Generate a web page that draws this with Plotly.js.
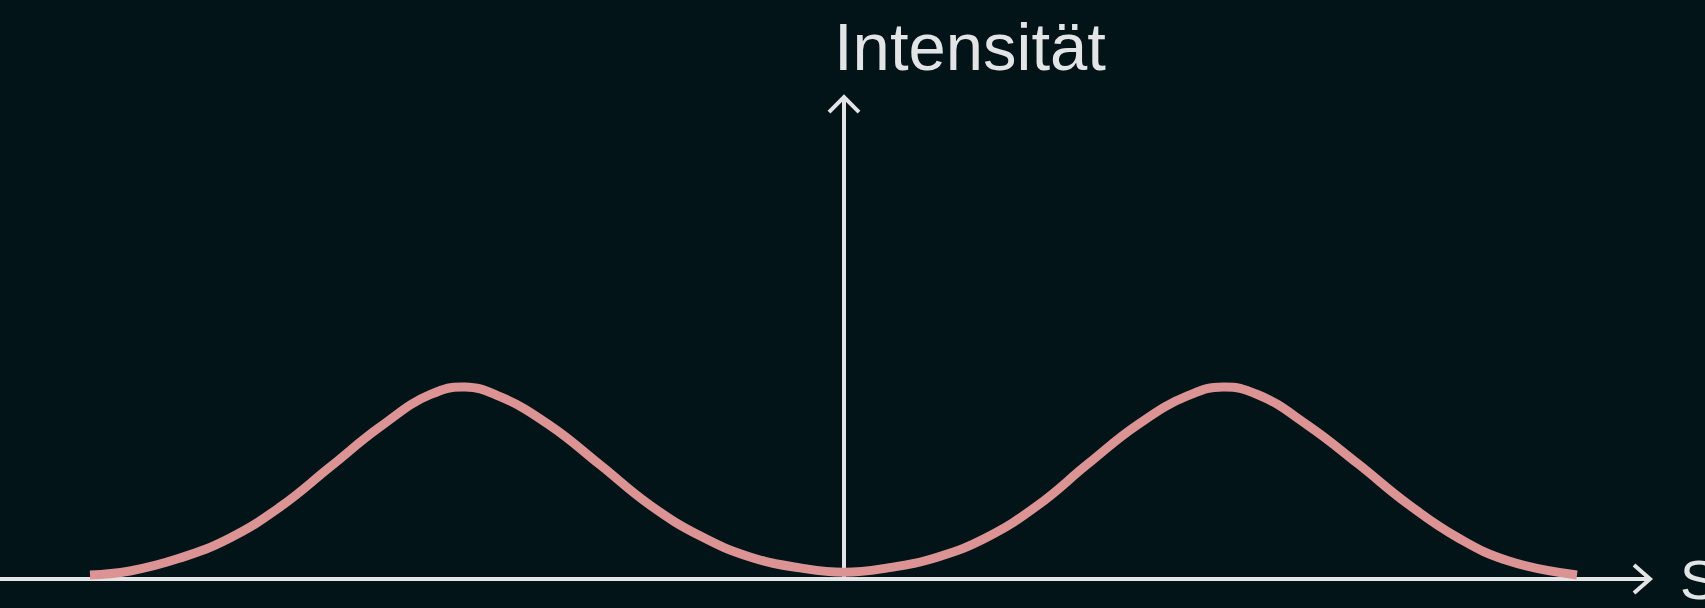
<!DOCTYPE html>
<html>
<head>
<meta charset="utf-8">
<script src="https://cdn.plot.ly/plotly-3.0.1.min.js"></script>
<style>
  html, body { margin: 0; padding: 0; background: #031419; }
  #graphDiv { width: 1705px; height: 608px; }
</style>
</head>
<body>
<div id="graphDiv"></div>
<script>
'use strict';

// position along the screen (0 = central axis) and relative intensity
const position = [-7.54, -7.14, -6.64, -6.14, -5.64, -5.14, -4.64, -4.14, -3.79, -3.44, -2.94, -2.44, -1.94, -1.44, -0.94, -0.44, 0,
  0.44, 0.94, 1.44, 1.94, 2.44, 2.94, 3.44, 3.79, 4.14, 4.64, 5.14, 5.64, 6.14, 6.64, 7.33];
const intensity = [0.021, 0.042, 0.109, 0.214, 0.375, 0.583, 0.792, 0.960, 1.0, 0.950, 0.800, 0.595, 0.385, 0.225, 0.115, 0.058, 0.035,
  0.058, 0.115, 0.220, 0.385, 0.600, 0.805, 0.955, 1.0, 0.960, 0.800, 0.600, 0.390, 0.215, 0.095, 0.021];

const yTitle = 'Intensität';
const xTitle = 'S';

const axisColor = '#e2e4e5';
const curveColor = '#dc9394';

const xArrowTip = 8.06;
const yArrowTip = 2.51;

function chevron(anchorX, anchorY, path) {
  return {
    type: 'path', xref: 'x', yref: 'y', xsizemode: 'pixel', ysizemode: 'pixel',
    xanchor: anchorX, yanchor: anchorY, path: path,
    line: { color: axisColor, width: 4 }, layer: 'below'
  };
}

let trace = {
  type: 'scatter', mode: 'lines', x: position, y: intensity,
  line: { color: curveColor, width: 9, shape: 'spline', smoothing: 1.3 },
  hoverinfo: 'skip'
};

let layout = {
  width: 1705, height: 608,
  margin: { l: 0, r: 0, t: 0, b: 0 },
  paper_bgcolor: '#031419', plot_bgcolor: '#031419',
  showlegend: false,
  xaxis: { range: [-8.44, 8.61], visible: false, fixedrange: true },
  yaxis: { range: [-0.151, 3.016], visible: false, fixedrange: true },
  shapes: [
    { type: 'line', xref: 'x', yref: 'y', x0: -8.44, x1: xArrowTip, y0: 0, y1: 0, layer: 'below',
      line: { color: axisColor, width: 4 } },
    { type: 'line', xref: 'x', yref: 'y', x0: 0, x1: 0, y0: 0, y1: yArrowTip, layer: 'below',
      line: { color: axisColor, width: 4 } },
    chevron(xArrowTip, 0, 'M -16 -14 L 0 0 L -16 14'),
    chevron(0, yArrowTip, 'M -15 -15 L 0 0 L 15 -15')
  ],
  annotations: [
    { text: yTitle, xref: 'x', yref: 'paper', x: -0.12, y: 1, xanchor: 'left', yanchor: 'top',
      yshift: -7, showarrow: false,
      font: { family: 'Liberation Sans, Arial, sans-serif', size: 67, color: axisColor } },
    { text: xTitle, xref: 'x', yref: 'y', x: 8.34, y: 0, xanchor: 'left', yanchor: 'middle',
      showarrow: false,
      font: { family: 'Liberation Sans, Arial, sans-serif', size: 56, color: axisColor } }
  ]
};

Plotly.newPlot(graphDiv, [trace], layout, { displayModeBar: false, staticPlot: true });
</script>
</body>
</html>
